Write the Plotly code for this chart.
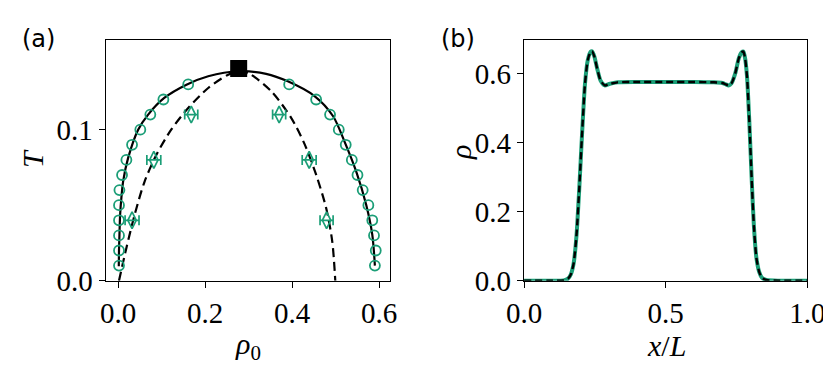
import plotly.graph_objects as go

GREEN = "#1b9e77"
SERIF = "Liberation Serif"

# (a) binodal measurements (open circles)
binodal_rho = [0.002, 0.002, 0.002, 0.002, 0.002, 0.003, 0.009, 0.019, 0.032, 0.051, 0.074, 0.104, 0.161,
               0.393, 0.455, 0.487, 0.507, 0.523, 0.537, 0.550, 0.562, 0.575, 0.584, 0.588, 0.592, 0.590]
binodal_T = [0.01, 0.02, 0.03, 0.04, 0.05, 0.06, 0.07, 0.08, 0.09, 0.10, 0.11, 0.12, 0.13,
             0.13, 0.12, 0.11, 0.10, 0.09, 0.08, 0.07, 0.06, 0.05, 0.04, 0.03, 0.02, 0.01]

# (a) spinodal measurements with horizontal error bars
spin_rho = [0.032, 0.082, 0.168, 0.370, 0.439, 0.479]
spin_T = [0.04, 0.08, 0.11, 0.11, 0.08, 0.04]
spin_err = [0.016, 0.016, 0.015, 0.015, 0.016, 0.015]

# (a) theory curves
bin_curve_rho = [0.0015, 0.002, 0.003, 0.0046, 0.0075, 0.0115, 0.023, 0.046, 0.069, 0.106, 0.157, 0.207,
                 0.277, 0.340, 0.390, 0.452, 0.494, 0.520, 0.547, 0.570, 0.584, 0.590]
bin_curve_T = [0.0095, 0.02, 0.03, 0.0437, 0.055, 0.0658, 0.0813, 0.10, 0.11, 0.121, 0.1298, 0.1354,
               0.1387, 0.1370, 0.132, 0.1221, 0.1089, 0.0923, 0.0724, 0.0503, 0.0305, 0.0100]
spin_curve_rho = [0.002, 0.019, 0.038, 0.061, 0.088, 0.122, 0.161, 0.207, 0.253, 0.278, 0.303, 0.352,
                  0.398, 0.429, 0.455, 0.478, 0.492, 0.499]
spin_curve_T = [0.0, 0.0217, 0.0437, 0.0658, 0.0834, 0.10, 0.1144, 0.1276, 0.1364, 0.1387, 0.1368, 0.1254,
                0.1077, 0.0901, 0.0702, 0.0481, 0.0261, 0.0]

crit_rho = [0.277]
crit_T = [0.1405]

# (b) density profile
x_L = [0.0, 0.10, 0.14, 0.155, 0.165, 0.175, 0.185, 0.195, 0.205, 0.215, 0.225, 0.235, 0.240, 0.248,
       0.258, 0.270, 0.285, 0.30, 0.33, 0.40, 0.50, 0.60, 0.67, 0.70, 0.712, 0.722, 0.732, 0.745, 0.758,
       0.768, 0.774, 0.780, 0.787, 0.795, 0.803, 0.811, 0.820, 0.830, 0.840, 0.855, 0.90, 1.0]
rho_prof = [0.0, 0.0, 0.001, 0.006, 0.018, 0.05, 0.13, 0.27, 0.43, 0.57, 0.64, 0.664, 0.665, 0.650,
            0.615, 0.580, 0.566, 0.570, 0.575, 0.576, 0.576, 0.576, 0.575, 0.573, 0.569, 0.566, 0.572, 0.600,
            0.645, 0.662, 0.664, 0.645, 0.590, 0.460, 0.300, 0.160, 0.066, 0.025, 0.008, 0.002, 0.0, 0.0]

fig = go.Figure()

fig.add_trace(go.Scatter(x=bin_curve_rho, y=bin_curve_T, mode="lines", line=dict(color="black", width=2.2, shape="spline", smoothing=0.8),
                         xaxis="x", yaxis="y", showlegend=False))
fig.add_trace(go.Scatter(x=spin_curve_rho, y=spin_curve_T, mode="lines",
                         line=dict(color="black", width=2.2, dash="9px,5px", shape="spline", smoothing=0.8),
                         xaxis="x", yaxis="y", showlegend=False))
fig.add_trace(go.Scatter(x=binodal_rho, y=binodal_T, mode="markers",
                         marker=dict(symbol="circle-open", size=10, color=GREEN, line=dict(width=1.8, color=GREEN)),
                         xaxis="x", yaxis="y", showlegend=False))
fig.add_trace(go.Scatter(x=spin_rho, y=spin_T, mode="markers",
                         marker=dict(symbol="diamond-tall-open", size=12, color=GREEN, line=dict(width=1.7, color=GREEN)),
                         error_x=dict(type="data", array=spin_err, color=GREEN, thickness=1.7, width=5),
                         xaxis="x", yaxis="y", showlegend=False))
fig.add_trace(go.Scatter(x=crit_rho, y=crit_T, mode="markers",
                         marker=dict(symbol="square", size=17, color="black"),
                         xaxis="x", yaxis="y", showlegend=False, cliponaxis=False))

fig.add_trace(go.Scatter(x=x_L, y=rho_prof, mode="lines", line=dict(color=GREEN, width=4, shape="spline", smoothing=0.6),
                         xaxis="x2", yaxis="y2", showlegend=False))
fig.add_trace(go.Scatter(x=x_L, y=rho_prof, mode="lines",
                         line=dict(color="black", width=2.4, dash="7px,4px", shape="spline", smoothing=0.6),
                         xaxis="x2", yaxis="y2", showlegend=False))

axis_style = dict(showgrid=False, zeroline=False, showline=True, linecolor="black", linewidth=1.3,
                  mirror=True, ticks="outside", ticklen=6, tickwidth=1.3, tickcolor="black", automargin=False,
                  tickfont=dict(family=SERIF, size=29, color="black"))

fig.update_layout(
    width=831, height=365,
    margin=dict(l=0, r=0, t=0, b=0),
    paper_bgcolor="white", plot_bgcolor="white",
    xaxis=dict(axis_style, domain=[0.1176, 0.4593], range=[-0.0285, 0.624],
               tickvals=[0, 0.2, 0.4, 0.6], ticktext=["0.0", "0.2", "0.4", "0.6"], anchor="y"),
    yaxis=dict(axis_style, domain=[0.2529, 0.9132], range=[0, 0.1596],
               tickvals=[0, 0.1], ticktext=["0.0", "0.1"], anchor="x"),
    xaxis2=dict(axis_style, domain=[0.621, 0.962], range=[0, 1],
                tickvals=[0, 0.5, 1], ticktext=["0.0", "0.5", "1.0"], anchor="y2"),
    yaxis2=dict(axis_style, domain=[0.2529, 0.9132], range=[0, 0.6986],
                tickvals=[0, 0.2, 0.4, 0.6], ticktext=["0.0", "0.2", "0.4", "0.6"], anchor="x2"),
)

font_lab = dict(family="DejaVu Sans", size=24, color="black")
font_ax = dict(family=SERIF, size=30, color="black")

# (text, x px, y px, angle, font)
annots = [
    ("(a)", 30, 31, 0, font_lab),
    ("(b)", 450, 31, 0, font_lab),
    ("<i>T</i>", 24, 151, -90, font_ax),
    ("<i>ρ</i><sub>0</sub>", 240, 338, 0, font_ax),
    ("<i>ρ</i>", 452, 145, -90, font_ax),
    ("<i>x</i>/<i>L</i>", 658, 337, 0, font_ax),
]
for txt, px, py, ang, fnt in annots:
    fig.add_annotation(text=txt, x=px / 831, y=1 - py / 365, xref="paper", yref="paper",
                       showarrow=False, textangle=ang, font=fnt, xanchor="center", yanchor="middle")

fig.write_html("out.html")
